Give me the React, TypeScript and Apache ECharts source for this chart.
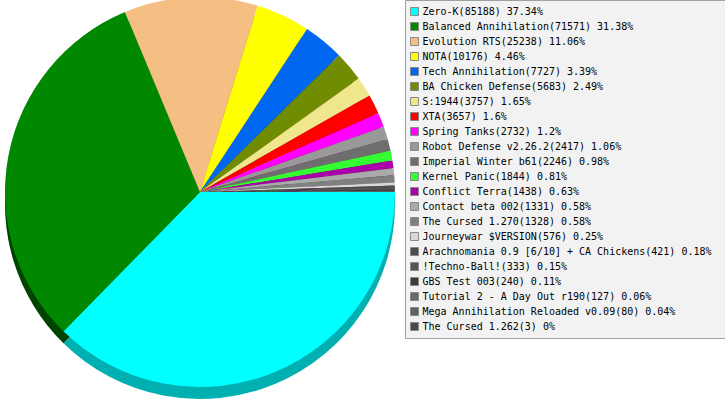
import React, { useEffect, useRef } from "react";
import * as echarts from "echarts";

const names = [
  "Zero-K",
  "Balanced Annihilation",
  "Evolution RTS",
  "NOTA",
  "Tech Annihilation",
  "BA Chicken Defense",
  "S:1944",
  "XTA",
  "Spring Tanks",
  "Robot Defense v2.26.2",
  "Imperial Winter b61",
  "Kernel Panic",
  "Conflict Terra",
  "Contact beta 002",
  "The Cursed 1.270",
  "Journeywar $VERSION",
  "Arachnomania 0.9 [6/10] + CA Chickens",
  "!Techno-Ball!",
  "GBS Test 003",
  "Tutorial 2 - A Day Out r190",
  "Mega Annihilation Reloaded v0.09",
  "The Cursed 1.262",
];

const values = [
  85188, 71571, 25238, 10176, 7727, 5683, 3757, 3657, 2732, 2417, 2246, 1844,
  1438, 1331, 1328, 576, 421, 333, 240, 127, 80, 3,
];

const percents = [
  "37.34", "31.38", "11.06", "4.46", "3.39", "2.49", "1.65", "1.6", "1.2",
  "1.06", "0.98", "0.81", "0.63", "0.58", "0.58", "0.25", "0.18", "0.15",
  "0.11", "0.06", "0.04", "0",
];

const colors = [
  "#00ffff", "#008800", "#f5be82", "#ffff00", "#0068f0", "#708c00", "#f0e68c",
  "#ff0000", "#ff00ff", "#999999", "#6e6e6e", "#33ff33", "#aa00aa", "#aaaaaa",
  "#808080", "#d9d9d9", "#4d4d4d", "#555555", "#3c3c3c", "#6a6a6a", "#606060",
  "#4a4a4a",
];

const shadowColors = [
  "#00b0b0", "#004400", "#8a6a48", "#8c8c00", "#003a84", "#3e4d00", "#847e4d",
  "#8c0000", "#8c008c", "#555555", "#3c3c3c", "#1c8c1c", "#5e005e", "#5e5e5e",
  "#464646", "#777777", "#2a2a2a", "#2f2f2f", "#212121", "#3a3a3a", "#353535",
  "#282828",
];

export default function App() {
  const ref = useRef<HTMLDivElement>(null);
  useEffect(() => {
    if (!ref.current) return;
    const chart = echarts.init(ref.current, null, { renderer: "svg" });
    const lookup: Record<string, number> = {};
    names.forEach((n, i) => (lookup[n] = i));
    chart.setOption({
      animation: false,
      backgroundColor: "#ffffff",
      graphic: [
        {
          type: "rect",
          z: -1,
          shape: { x: 405.5, y: 0.5, width: 330, height: 338 },
          style: { fill: "#f2f2f2", stroke: "#a0a0a0", lineWidth: 1 },
        },
      ],
      legend: {
        orient: "vertical",
        left: 410,
        top: 4,
        padding: 0,
        itemGap: 0,
        itemWidth: 8,
        itemHeight: 8,
        icon: "rect",
        data: names,
        itemStyle: { borderColor: "#8a8a8a", borderWidth: 1 },
        textStyle: {
          fontFamily: "DejaVu Sans Mono",
          fontSize: 10,
          color: "#000000",
          lineHeight: 15,
          padding: [0, 0, 0, -1],
        },
        formatter: (name: string) => {
          const i = lookup[name];
          return `${name}(${values[i]}) ${percents[i]}%`;
        },
      },
      series: [
        {
          type: "pie",
          name: "face",
          z: 3,
          center: [200, 192],
          radius: 195,
          startAngle: 0,
          clockwise: true,
          avoidLabelOverlap: false,
          label: { show: false },
          labelLine: { show: false },
          emphasis: { disabled: true },
          itemStyle: { borderWidth: 0 },
          data: names.map((n, i) => ({
            name: n,
            value: values[i],
            itemStyle: { color: colors[i] },
          })),
        },
        {
          type: "pie",
          name: "shadow",
          z: 2,
          silent: true,
          center: [200, 204],
          radius: 195,
          startAngle: 0,
          clockwise: true,
          label: { show: false },
          labelLine: { show: false },
          emphasis: { disabled: true },
          itemStyle: { borderWidth: 0 },
          data: names.map((n, i) => ({
            name: "shadow " + n,
            value: values[i],
            itemStyle: { color: shadowColors[i] },
          })),
        },
      ],
    });
    return () => chart.dispose();
  }, []);
  return (
    <div
      ref={ref}
      style={{ position: "fixed", left: 0, top: 0, width: 725, height: 400 }}
    />
  );
}
